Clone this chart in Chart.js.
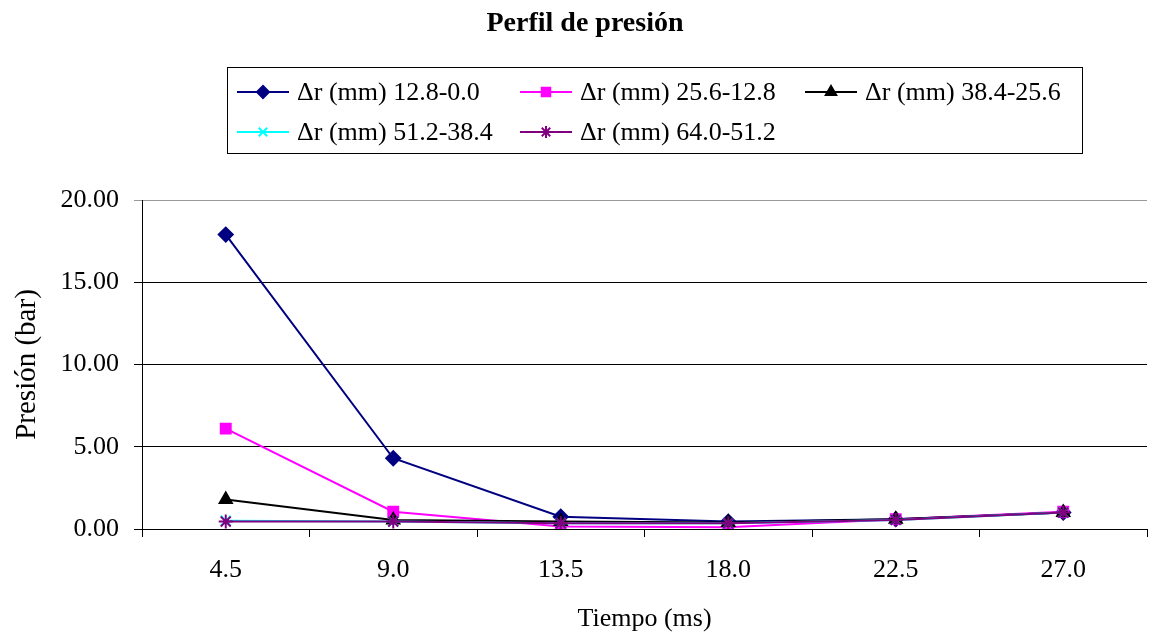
<!DOCTYPE html>
<html>
<head>
<meta charset="utf-8">
<script src="https://cdn.jsdelivr.net/npm/chart.js@4/dist/chart.umd.min.js"></script>
<style>
  body { margin: 0; background: #fff; }
  #wrap { width: 1169px; height: 639px; position: relative; }
</style>
</head>
<body>
<div id="wrap"><canvas id="presionChart"></canvas></div>
<script>
const chartTitle = "Perfil de presión";
const categories = ["4.5", "9.0", "13.5", "18.0", "22.5", "27.0"];
const seriesNames = [
  "Δr (mm) 12.8-0.0",
  "Δr (mm) 25.6-12.8",
  "Δr (mm) 38.4-25.6",
  "Δr (mm) 51.2-38.4",
  "Δr (mm) 64.0-51.2"
];
const r12 = [17.9, 4.3, 0.75, 0.45, 0.6, 1.0];
const r25 = [6.1, 1.05, 0.15, 0.1, 0.6, 1.05];
const r38 = [1.8, 0.55, 0.45, 0.4, 0.6, 1.0];
const r51 = [0.5, 0.45, 0.35, 0.35, 0.55, 1.0];
const r64 = [0.45, 0.45, 0.35, 0.35, 0.55, 1.0];
const yTicks = [0, 5, 10, 15, 20];

const FONT = "'Liberation Serif', 'Times New Roman', serif";

const styles = [
  { color: "#000080", point: "rectRot", radius: 7 },
  { color: "#ff00ff", point: "rect", radius: 7 },
  { color: "#000000", point: "triangle", radius: 7 },
  { color: "#00ffff", point: "crossRot", radius: 7 },
  { color: "#800080", point: "star", radius: 7 }
];
const values = [r12, r25, r38, r51, r64];

/* legend box + title drawn on the canvas */
const legendSlots = [
  { x: 237, y: 92 }, { x: 520, y: 92 }, { x: 805, y: 92 },
  { x: 237, y: 132 }, { x: 520, y: 132 }
];

const boxLegend = {
  id: "boxLegend",
  afterDraw(c) {
    const ctx = c.ctx;
    ctx.save();
    ctx.fillStyle = "#000";
    ctx.font = "bold 28px " + FONT;
    ctx.textAlign = "center";
    ctx.textBaseline = "middle";
    ctx.fillText(chartTitle, 585, 24);

    ctx.strokeStyle = "#000";
    ctx.lineWidth = 1;
    ctx.strokeRect(227.5, 67.5, 855, 86);

    ctx.font = "26px " + FONT;
    ctx.textAlign = "left";
    c.data.datasets.forEach((ds, i) => {
      const s = legendSlots[i];
      ctx.strokeStyle = ds.borderColor;
      ctx.lineWidth = 2;
      ctx.beginPath();
      ctx.moveTo(s.x, s.y);
      ctx.lineTo(s.x + 52, s.y);
      ctx.stroke();
      ctx.fillStyle = ds.borderColor;
      Chart.helpers.drawPoint(ctx, {
        pointStyle: ds.pointStyle, radius: 6, rotation: 0, borderWidth: 2
      }, s.x + 26, s.y);
      ctx.fillStyle = "#000";
      ctx.fillText(ds.label, s.x + 60, s.y + 1);
    });
    ctx.restore();
  }
};

new Chart(document.getElementById("presionChart"), {
  type: "line",
  data: {
    labels: categories,
    datasets: seriesNames.map((name, i) => ({
      label: name,
      data: values[i],
      borderColor: styles[i].color,
      backgroundColor: styles[i].color,
      pointBackgroundColor: styles[i].color,
      pointBorderColor: styles[i].color,
      pointStyle: styles[i].point,
      pointRadius: styles[i].radius,
      pointBorderWidth: 2,
      borderWidth: 2,
      tension: 0,
      order: seriesNames.length - i
    }))
  },
  options: {
    responsive: true,
    maintainAspectRatio: false,
    animation: false,
    layout: { padding: { top: 200, right: 22, bottom: 0, left: 0 } },
    plugins: {
      legend: { display: false },
      title: { display: false },
      tooltip: { enabled: false }
    },
    scales: {
      x: {
        offset: true,
        grid: {
          offset: true,
          drawOnChartArea: false,
          drawTicks: true,
          tickLength: 8,
          color: "#000"
        },
        border: { color: "#000", width: 1 },
        ticks: { color: "#000", font: { family: FONT, size: 26 }, padding: 18 },
        title: {
          display: true,
          text: "Tiempo (ms)",
          color: "#000",
          font: { family: FONT, size: 26 },
          padding: { top: 4, bottom: 4 }
        },
        afterFit(scale) { scale.height = 110; }
      },
      y: {
        min: 0,
        max: 20,
        afterBuildTicks(scale) { scale.ticks = yTicks.map(v => ({ value: v })); },
        grid: {
          color: ctx => (ctx.tick && ctx.tick.value === 20 ? "#999" : "#000"),
          drawTicks: true,
          tickLength: 8
        },
        border: { color: "#000", width: 1 },
        ticks: {
          color: "#000",
          font: { family: FONT, size: 26 },
          padding: 15,
          callback: v => Number(v).toFixed(2)
        },
        title: {
          display: true,
          text: "Presión (bar)",
          color: "#000",
          font: { family: FONT, size: 29 },
          padding: { top: 10, bottom: 4 }
        },
        afterFit(scale) { scale.width = 142; }
      }
    }
  },
  plugins: [boxLegend]
});
</script>
</body>
</html>
